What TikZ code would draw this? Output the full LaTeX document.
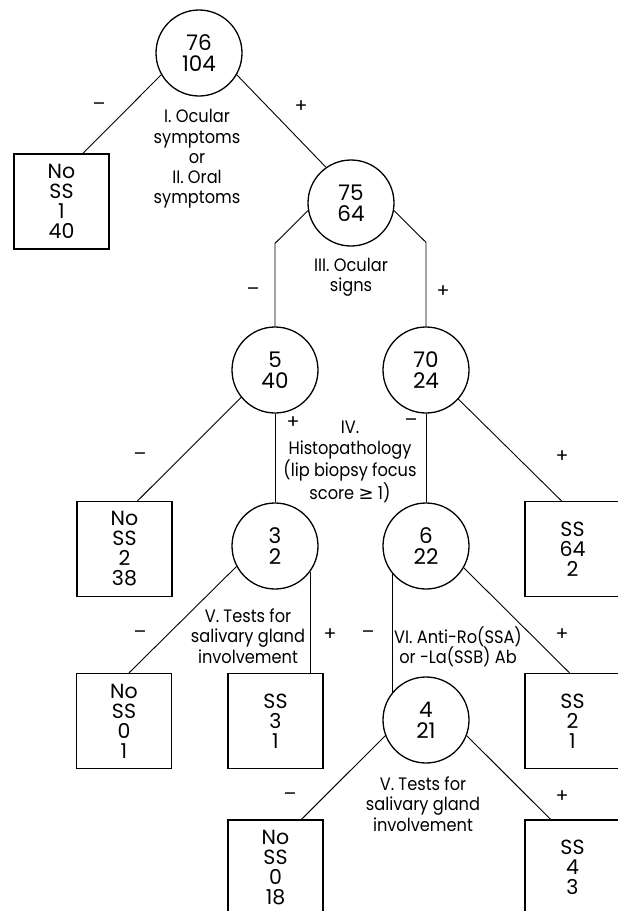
\documentclass[tikz,border=0pt]{standalone}
\usepackage{fontspec}
\setmainfont{Poppins}
\newfontfamily\labelfont{Poppins}[FakeStretch=0.9]
\newfontfamily\geqfont{DejaVu Sans}
\usepackage{tikz}

\begin{document}
\begin{tikzpicture}[
        x=1pt, y=-1pt,
        count/.style={circle, draw, line width=1.3pt, minimum size=86, inner sep=0pt, align=center, font=\fontsize{21.5}{21}\selectfont},
        leaf/.style={rectangle, draw, line width=1.3pt, minimum size=95, inner sep=0pt, align=center, font=\fontsize{20.5}{20}\selectfont},
        test_label/.style={align=center, inner sep=0pt, font=\labelfont\fontsize{18}{20.2}\selectfont},
        sign/.style={inner sep=0pt, font=\fontsize{19}{20}\selectfont},
        branch/.style={line width=0.9pt}
    ]

    \useasboundingbox (0,0) rectangle (618,911);
    \clip (0,0) rectangle (618,911);

    % --- Count nodes (circles) ---
    \node[count] (root) at (199,53) {76\\104};
    \node[count] (n1) at (351,203) {75\\64};
    \node[count] (n2) at (275,370) {5\\40};
    \node[count] (n3) at (426,370) {70\\24};
    \node[count] (n4) at (275,546) {3\\2};
    \node[count] (n5) at (426,546) {6\\22};
    \node[count] (n6) at (426,720) {4\\21};

    % --- Outcome boxes ---
    \node[leaf] (b1) at (61.5,201.5) {No\\SS\\1\\40};
    \node[leaf] (b2) at (124.5,549) {No\\SS\\2\\38};
    \node[leaf] (b3) at (572.5,549) {SS\\64\\2};
    \node[leaf] (b4) at (124,721) {No\\SS\\0\\1};
    \node[leaf] (b5) at (275.5,721) {SS\\3\\1};
    \node[leaf] (b6) at (572.5,721) {SS\\2\\1};
    \node[leaf] (b7) at (275.5,867.5) {No\\SS\\0\\18};
    \node[leaf] (b8) at (572.5,867.5) {SS\\4\\3};

    % --- Branches ---
    \draw[branch] (root.210) -- ([xshift=21.5]b1.north);
    \draw[branch] (root.330) -- (n1.125);
    \draw[branch] (n1.190) -- ([yshift=83]n2.north) -- (n2.north);
    \draw[branch] (n1.350) -- ([yshift=84]n3.north) -- (n3.north);
    \draw[branch] (n2.219) -- ([xshift=13]b2.north);
    \draw[branch] (n2) -- (n4);
    \draw[branch] (n3) -- (n5);
    \draw[branch] (n3.318) -- ([xshift=-11]b3.north);
    \draw[branch] (n4.208) -- ([xshift=5]b4.north);
    \draw[branch] (n4.324) -- (n4.324 |- b5.north);
    \draw[branch] (n5.220) -- (n6.140);
    \draw[branch] (n5.330) -- ([xshift=-3]b6.north);
    \draw[branch] (n6.201) -- ([xshift=26]b7.north);
    \draw[branch] (n6.339) -- ([xshift=-22]b8.north);

    % --- Tests ---
    \node[test_label] (t1) at (197,159) {I. Ocular\\symptoms\\or\\II. Oral\\symptoms};
    \node[test_label] (t2) at (351,277) {III. Ocular\\signs};
    \node[test_label] (t3) at (350,462) {IV.\\Histopathology\\(lip biopsy focus\\score {\geqfont ≥} 1)};
    \node[test_label] (t4) at (248,636) {V. Tests for\\salivary gland\\involvement};
    \node[test_label] (t5) at (458,647) {VI. Anti-Ro(SSA)\\or -La(SSB) Ab};
    \node[test_label] (t6) at (423,804) {V. Tests for\\salivary gland\\involvement};

    % --- Signs ---
    \node[sign] (m1) at (99,107) {–};
    \node[sign] (p1) at (301,107) {+};
    \node[sign] (m2) at (253,292) {–};
    \node[sign] (p2) at (443,292) {+};
    \node[sign] (p3) at (293,423) {+};
    \node[sign] (m3) at (411,423) {–};
    \node[sign] (m4) at (140,457) {–};
    \node[sign] (p4) at (562,457) {+};
    \node[sign] (m5) at (140,635) {–};
    \node[sign] (p5) at (330,635) {+};
    \node[sign] (m6) at (368,635) {–};
    \node[sign] (p6) at (562,635) {+};
    \node[sign] (m7) at (290,797) {–};
    \node[sign] (p7) at (562,797) {+};

\end{tikzpicture}
\end{document}
